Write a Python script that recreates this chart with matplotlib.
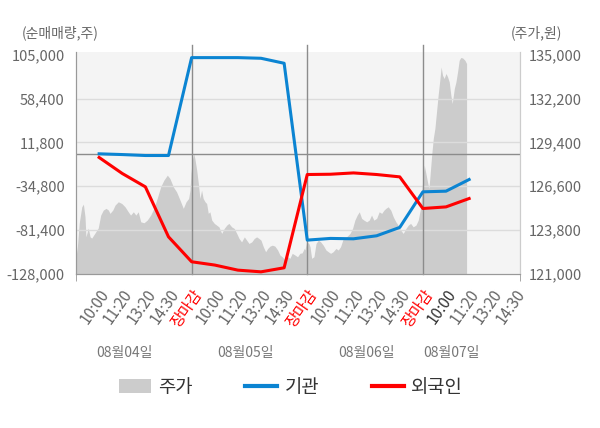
import numpy as np
import matplotlib.pyplot as plt
from matplotlib.lines import Line2D
from matplotlib.patches import Patch
from matplotlib.ticker import FuncFormatter

plt.rcParams['font.family'] = ['Noto Sans CJK KR', 'DejaVu Sans']

# x axis: one slot per time label, day boundaries (장마감) at 5, 10, 15
time_labels = ['10:00', '11:20', '13:20', '14:30', '장마감'] * 3 + ['10:00', '11:20', '13:20', '14:30']
dates = ['08월04일', '08월05일', '08월06일', '08월07일']

# net buying (shares), one value per time label
inst = [-300, -1100, -2100, -2100, 101900,
        101900, 101900, 101200, 95900, -92000,
        -90200, -90600, -87400, -78500, -40700,
        -40000, -27600]
foreign = [-4200, -21200, -35400, -88500, -115000,
           -118500, -123900, -125700, -121400, -22300,
           -22000, -20600, -22300, -24800, -58400,
           -56700, -47800]

# stock price (won), time in label slots
price_t = [0.00, 0.06, 0.14, 0.25, 0.32, 0.39, 0.43, 0.53, 0.61, 0.68, 0.82, 0.96,
           1.07, 1.18, 1.30, 1.40, 1.47, 1.59, 1.69, 1.83, 1.98, 2.12, 2.26, 2.36,
           2.48, 2.59, 2.69, 2.80, 2.94, 3.08, 3.23, 3.37, 3.51, 3.66, 3.80, 3.95,
           4.06, 4.21, 4.35, 4.50, 4.64, 4.76, 4.87, 4.93,
           4.97, 5.03, 5.09, 5.14, 5.22, 5.29, 5.36, 5.43, 5.50, 5.58, 5.65, 5.72,
           5.79, 5.87, 5.98, 6.08, 6.18, 6.30, 6.41, 6.52, 6.61, 6.73, 6.84, 6.95,
           7.05, 7.16, 7.28, 7.38, 7.48, 7.60, 7.71, 7.81, 7.91, 8.00, 8.10, 8.20,
           8.29, 8.39, 8.49, 8.60, 8.72, 8.82, 8.92, 9.04, 9.15, 9.25, 9.35, 9.47,
           9.58, 9.68, 9.78, 9.87, 9.90,
           9.97, 10.07, 10.12, 10.19, 10.29, 10.38, 10.48, 10.58, 10.69, 10.81,
           10.91, 11.01, 11.12, 11.24, 11.34, 11.44, 11.56, 11.70, 11.85, 11.96,
           12.06, 12.16, 12.25, 12.35, 12.45, 12.57, 12.68, 12.78, 12.88, 13.00,
           13.11, 13.22, 13.32, 13.40, 13.50, 13.61, 13.72, 13.83, 13.93, 14.04,
           14.15, 14.27, 14.37, 14.47, 14.58, 14.70, 14.80, 14.90,
           14.93, 15.00, 15.06, 15.13, 15.20, 15.26, 15.30, 15.38, 15.45, 15.52,
           15.59, 15.66, 15.74, 15.79, 15.85, 15.92, 16.00, 16.07, 16.14, 16.21,
           16.27, 16.36, 16.43, 16.50, 16.57, 16.64, 16.72, 16.82, 16.89]
price = [122100, 122740, 124250, 125290, 125460, 124650, 123370, 123930, 123370, 123290, 123610, 123930,
         124760, 125080, 125190, 125080, 124870, 125080, 125400, 125610, 125500, 125290, 124970, 124760,
         124970, 124760, 124970, 124330, 124270, 124440, 124760, 125190, 125820, 126560, 126990, 127310,
         127100, 126560, 126240, 125710, 125190, 125610, 125820, 126350,
         127420, 128270, 128690, 128370, 127630, 126780, 125820, 126350, 125820, 125610, 125500, 124870,
         124970, 124440, 124230, 124120, 124010, 123590, 123910, 124120, 124230, 124010, 123910, 123590,
         123270, 123050, 123370, 123160, 122950, 123050, 123270, 123370, 123270, 123160, 122740, 122420,
         122630, 122780, 122840, 122780, 122530, 122210, 122100, 121890, 122100, 122000, 122320, 122210,
         122100, 122320, 122350, 122630, 122530,
         123050, 122950, 122740, 122000, 122100, 122950, 123160, 123050, 122840, 122530,
         122420, 122320, 122420, 122630, 122530, 122740, 123270, 123370, 123590, 123910,
         124440, 124760, 124970, 124550, 124440, 124330, 124440, 124760, 124440, 124550,
         124970, 124870, 125080, 125190, 125290, 125080, 124650, 124330, 124120, 123800,
         123590, 123910, 124120, 124230, 124010, 124120, 124440, 125190,
         125710, 127120, 127950, 127420, 126880, 126460, 127100, 128580, 129650, 130290,
         131350, 132410, 133480, 134220, 133690, 133480, 133800, 133580, 133260, 132410,
         131880, 132840, 133260, 133900, 134640, 134820, 134790, 134640, 134430]

flow_ticks = [105000, 58400, 11800, -34800, -81400, -128000]
price_ticks = [121000, 123800, 126600, 129400, 132200, 135000]

fig = plt.figure(figsize=(6, 4.28), dpi=100)
ax = fig.add_axes([76 / 600, 1 - 274 / 428, 444 / 600, 222 / 428])
ax.set_facecolor('#f4f4f4')
ax2 = ax.twinx()

# price area on the bottom axes, right scale
ax.fill_between(price_t, price, 121000, color='#cccccc', linewidth=0)
ax.set_ylim(121000, 135172)
ax.set_xlim(0, 19.2)
ax.yaxis.tick_right()
ax.set_yticks(price_ticks)
ax.yaxis.set_major_formatter(FuncFormatter(lambda v, p: f'{int(v):,}'))
ax.tick_params(axis='y', length=0, pad=6, labelsize=10.5, labelcolor='#666666')

# flows on the twin axes, left scale
ax2.yaxis.tick_left()
ax2.set_ylim(-128000, 107870)
ax2.set_yticks(flow_ticks)
ax2.yaxis.set_major_formatter(FuncFormatter(lambda v, p: f'{int(v):,}'))
ax2.tick_params(axis='y', length=0, pad=8, labelsize=10.5, labelcolor='#666666')
for v in flow_ticks[1:-1]:
    ax2.axhline(v, color='#dcdcdc', linewidth=1, zorder=0)
ax2.axhline(0, color='#8c8c8c', linewidth=1, zorder=1)
for b in [5, 10, 15]:
    ax2.axvline(b, ymin=0, ymax=1.03, color='#8c8c8c', linewidth=1, clip_on=False, zorder=1)

slots = np.arange(1, len(inst) + 1)
ax2.plot(slots, inst, color='#0b84d2', linewidth=2.2, zorder=3)
ax2.plot(slots, foreign, color='#ff0000', linewidth=2.2, zorder=3)

for a in (ax, ax2):
    a.spines['top'].set_visible(False)
    a.spines['left'].set_color('#999999')
    a.spines['bottom'].set_color('#999999')
    a.spines['right'].set_color('#cccccc')

# x ticks
ax.set_xticks(np.arange(1, len(time_labels) + 1))
ax.set_xticklabels(time_labels, rotation=55, ha='right', va='top', rotation_mode='anchor')
ax.tick_params(axis='x', length=0, pad=9, labelsize=11, labelcolor='#666666')
ax.set_xticks([0, 5, 10, 15, 19.2], minor=True)
ax.tick_params(axis='x', which='minor', length=5, color='#999999')
for i, lab in enumerate(ax.get_xticklabels()):
    if time_labels[i] == '장마감':
        lab.set_color('#ff0000')
    elif i == 15:
        lab.set_color('#333333')

date_pos = [2.08, 7.35, 12.58, 16.24]
for d, xp in zip(dates, date_pos):
    ax.text(xp, -0.356, d, transform=ax.get_xaxis_transform(), ha='center', va='center',
            fontsize=10, color='#777777')

fig.text(22 / 600, 1 - 33 / 428, '(순매매량,주)', ha='left', va='center', fontsize=10, color='#666666')
fig.text(562 / 600, 1 - 33 / 428, '(주가,원)', ha='right', va='center', fontsize=10, color='#666666')

handles = [Patch(facecolor='#cccccc', edgecolor='none'),
           Line2D([], [], color='#0b84d2', linewidth=3),
           Line2D([], [], color='#ff0000', linewidth=3)]
fig.legend(handles, ['주가', '기관', '외국인'], loc='center', ncol=3,
           bbox_to_anchor=(291 / 600, 1 - 387 / 428), frameon=False, fontsize=13.5,
           handlelength=1.7, handleheight=0.7, handletextpad=0.4, columnspacing=2.8,
           labelcolor='#333333')

fig.savefig('out.png', dpi=100)
